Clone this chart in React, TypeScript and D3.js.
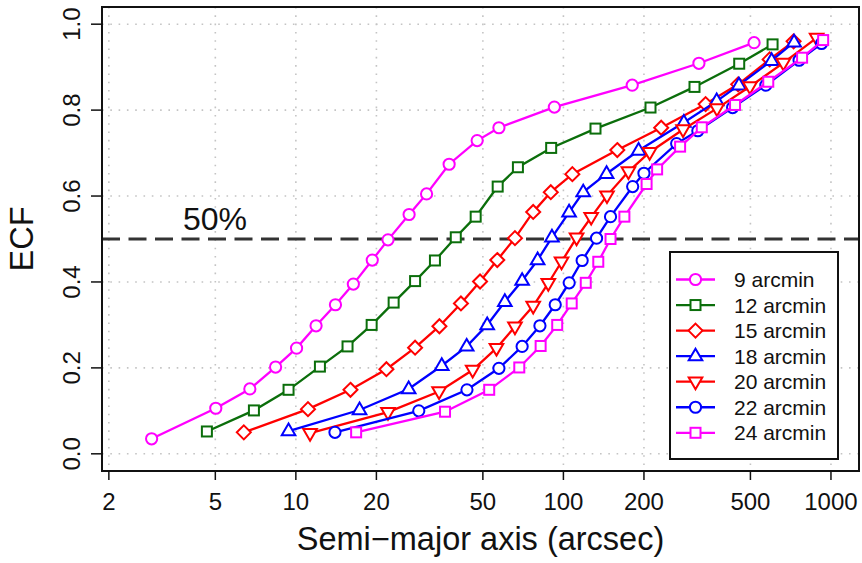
import React from "react";
import * as d3 from "d3";

const xTickValues = [2, 5, 10, 20, 50, 100, 200, 500, 1000];
const yTickValues = [0, 0.2, 0.4, 0.6, 0.8, 1.0];

const seriesNames = ["9 arcmin", "12 arcmin", "15 arcmin", "18 arcmin", "20 arcmin", "22 arcmin", "24 arcmin"];
const seriesColors = ["#ff00ff", "#0b6e0b", "#ff0000", "#0000ff", "#ff0000", "#0000ff", "#ff00ff"];
const seriesShapes = ["circle", "square", "diamond", "triUp", "triDown", "circle", "square"];

const sma9 = [2.89, 5.02, 6.73, 8.4, 10.06, 11.9, 14.06, 16.4, 19.3, 22.1, 26.5, 30.8, 37.4, 47.6, 57.4, 92.5, 180.8, 321, 516];
const ecf9 = [0.035, 0.106, 0.151, 0.202, 0.246, 0.298, 0.347, 0.395, 0.451, 0.498, 0.557, 0.605, 0.674, 0.729, 0.759, 0.807, 0.858, 0.909, 0.957];

const sma12 = [4.65, 6.97, 9.39, 12.3, 15.6, 19.2, 23.2, 27.9, 33.1, 39.6, 47, 56.8, 67.6, 90, 131.8, 211.6, 309, 454, 605];
const ecf12 = [0.052, 0.101, 0.149, 0.203, 0.25, 0.3, 0.352, 0.402, 0.45, 0.504, 0.552, 0.622, 0.667, 0.712, 0.757, 0.806, 0.854, 0.908, 0.953];

const sma15 = [6.39, 11.1, 16.0, 21.8, 27.9, 34.4, 41.4, 48.8, 56.6, 65.9, 77.1, 89.7, 108, 159, 232, 340, 450, 590, 725];
const ecf15 = [0.05, 0.104, 0.149, 0.197, 0.247, 0.297, 0.35, 0.401, 0.451, 0.502, 0.563, 0.609, 0.651, 0.707, 0.759, 0.814, 0.86, 0.918, 0.96];

const sma18 = [9.39, 17.3, 26.4, 35.1, 43.5, 51.9, 60.4, 70.1, 80.1, 90.6, 105, 118.6, 145, 191, 282, 374, 453, 600, 728];
const ecf18 = [0.053, 0.102, 0.151, 0.205, 0.25, 0.3, 0.354, 0.403, 0.451, 0.504, 0.562, 0.609, 0.652, 0.706, 0.771, 0.821, 0.858, 0.915, 0.958];

const sma20 = [11.3, 22.1, 34.3, 45.8, 56.2, 65.9, 77.1, 87.8, 98.4, 112, 127, 145.5, 175, 210, 280, 375, 498, 664, 884];
const ecf20 = [0.048, 0.097, 0.145, 0.195, 0.246, 0.296, 0.344, 0.397, 0.447, 0.503, 0.551, 0.601, 0.657, 0.702, 0.755, 0.804, 0.855, 0.91, 0.968];

const sma22 = [14.0, 28.8, 43.6, 57.4, 70.1, 81.7, 93.2, 105.1, 117.5, 133, 150, 181.5, 200, 265, 318, 429, 571, 760, 922];
const ecf22 = [0.05, 0.1, 0.149, 0.199, 0.25, 0.298, 0.347, 0.398, 0.45, 0.502, 0.552, 0.622, 0.653, 0.722, 0.752, 0.806, 0.858, 0.916, 0.955];

const sma24 = [16.8, 36.1, 52.8, 68.4, 82.2, 94.8, 107.4, 121.2, 135, 150, 169, 204.6, 224, 273, 329, 438, 583, 780, 935];
const ecf24 = [0.05, 0.098, 0.149, 0.201, 0.251, 0.3, 0.35, 0.398, 0.447, 0.5, 0.552, 0.628, 0.662, 0.715, 0.76, 0.812, 0.866, 0.922, 0.963];

const smaList = [sma9, sma12, sma15, sma18, sma20, sma22, sma24];
const ecfList = [ecf9, ecf12, ecf15, ecf18, ecf20, ecf22, ecf24];

const W = 862;
const H = 563;
const plotL = 102, plotR = 859, plotT = 7, plotB = 471;

// R-style 4% axis extension of xlim = c(2.4, 1000), ylim = c(0, 1)
const lx0 = Math.log10(2.4), lx1 = Math.log10(1000);
const ext = 0.04 * (lx1 - lx0);
const x = d3.scaleLog().domain([Math.pow(10, lx0 - ext), Math.pow(10, lx1 + ext)]).range([plotL, plotR]);
const y = d3.scaleLinear().domain([-0.04, 1.04]).range([plotB, plotT]);

const FONT = "'Liberation Sans', Arial, Helvetica, sans-serif";

function Marker({ shape, cx, cy, color }: { shape: string; cx: number; cy: number; color: string }) {
  const sw = 2;
  if (shape === "circle") return <circle cx={cx} cy={cy} r={5.6} fill="#fff" stroke={color} strokeWidth={sw} />;
  if (shape === "square") return <rect x={cx - 5} y={cy - 5} width={10} height={10} fill="#fff" stroke={color} strokeWidth={sw} />;
  let d = "";
  if (shape === "diamond") d = `M${cx},${cy - 7} L${cx + 7},${cy} L${cx},${cy + 7} L${cx - 7},${cy} Z`;
  if (shape === "triUp") d = `M${cx},${cy - 7.5} L${cx + 6.8},${cy + 4.2} L${cx - 6.8},${cy + 4.2} Z`;
  if (shape === "triDown") d = `M${cx},${cy + 7.5} L${cx + 6.8},${cy - 4.2} L${cx - 6.8},${cy - 4.2} Z`;
  return <path d={d} fill="#fff" stroke={color} strokeWidth={sw} strokeLinejoin="miter" />;
}

export default function App() {
  const line = d3.line<[number, number]>().x((d) => x(d[0])).y((d) => y(d[1]));
  const legendX = 670, legendY = 252, legendW = 168, legendH = 207;
  const legendRow0 = 279.5, legendStep = 25.55;

  return (
    <svg width={W} height={H} style={{ position: "absolute", left: 0, top: 0, background: "#fff" }} fontFamily={FONT}>
      <rect x={0} y={0} width={W} height={H} fill="#fff" />
      {/* grid */}
      <g stroke="#c4c4c4" strokeWidth={1.6} strokeDasharray="1.6,6.7">
        {xTickValues.map((t) => (
          <line key={"gx" + t} x1={x(t)} x2={x(t)} y1={plotT} y2={plotB} />
        ))}
        {yTickValues.map((t) => (
          <line key={"gy" + t} x1={plotL} x2={plotR} y1={y(t)} y2={y(t)} />
        ))}
      </g>
      {/* 50% line */}
      <line x1={plotL} x2={plotR} y1={y(0.5)} y2={y(0.5)} stroke="#333" strokeWidth={3} strokeDasharray="18,8.5" />
      <text x={183} y={230} fontSize={32} fill="#111">50%</text>
      {/* series */}
      {smaList.map((xs, i) => {
        const pts: [number, number][] = xs.map((v, j) => [v, ecfList[i][j]]);
        return (
          <g key={"s" + i}>
            <path d={line(pts) || ""} fill="none" stroke={seriesColors[i]} strokeWidth={2.3} />
            {pts.map((p, j) => (
              <Marker key={j} shape={seriesShapes[i]} cx={x(p[0])} cy={y(p[1])} color={seriesColors[i]} />
            ))}
          </g>
        );
      })}
      {/* frame */}
      <rect x={plotL} y={plotT} width={plotR - plotL} height={plotB - plotT} fill="none" stroke="#111" strokeWidth={2} />
      {/* x axis */}
      <g>
        {xTickValues.map((t) => (
          <g key={"xt" + t}>
            <line x1={x(t)} x2={x(t)} y1={plotB} y2={plotB + 9} stroke="#111" strokeWidth={1.5} />
            <text x={x(t)} y={510} fontSize={24} textAnchor="middle" fill="#111">{t}</text>
          </g>
        ))}
        <text x={(plotL + plotR) / 2} y={550} fontSize={32.5} textAnchor="middle" fill="#111">Semi−major axis (arcsec)</text>
      </g>
      {/* y axis */}
      <g>
        {yTickValues.map((t) => (
          <g key={"yt" + t}>
            <line x1={plotL - 11} x2={plotL} y1={y(t)} y2={y(t)} stroke="#111" strokeWidth={1.5} />
            <text transform={`translate(80,${y(t)}) rotate(-90)`} fontSize={24} textAnchor="middle" fill="#111">{t.toFixed(1)}</text>
          </g>
        ))}
        <text transform={`translate(33,${(plotT + plotB) / 2}) rotate(-90)`} fontSize={32.5} textAnchor="middle" fill="#111">ECF</text>
      </g>
      {/* legend */}
      <rect x={legendX} y={legendY} width={legendW} height={legendH} fill="#fff" stroke="#111" strokeWidth={2} />
      {seriesNames.map((name, i) => {
        const cy = legendRow0 + i * legendStep;
        return (
          <g key={"lg" + i}>
            <line x1={676} x2={715} y1={cy} y2={cy} stroke={seriesColors[i]} strokeWidth={2.3} />
            <Marker shape={seriesShapes[i]} cx={695.5} cy={cy} color={seriesColors[i]} />
            <text x={734} y={cy + 7.6} fontSize={21} fill="#111">{name}</text>
          </g>
        );
      })}
    </svg>
  );
}
